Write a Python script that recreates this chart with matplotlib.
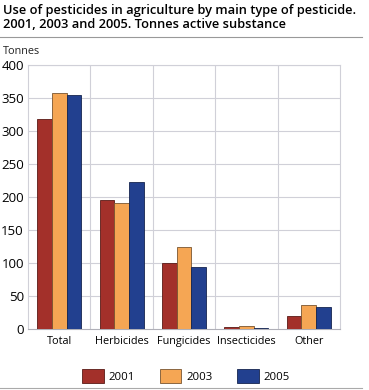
import matplotlib
matplotlib.use("Agg")
import matplotlib.pyplot as plt
import numpy as np
from matplotlib.lines import Line2D
from matplotlib.patches import Patch

categories = ["Total", "Herbicides", "Fungicides", "Insecticides", "Other"]
years = ["2001", "2003", "2005"]
v2001 = [318, 195, 100, 2.5, 20]
v2003 = [357, 191, 124, 4.5, 36]
v2005 = [354, 223, 94, 1.5, 33]
yticks = [0, 50, 100, 150, 200, 250, 300, 350, 400]

colors = ["#A3302A", "#F5A654", "#22408F"]
edges = ["#5a1a16", "#7a5530", "#15254f"]

plt.rcParams['font.family'] = ['Open Sans', 'DejaVu Sans']

fig = plt.figure(figsize=(3.69, 3.90), dpi=100)
W, H = 369, 390
ax = fig.add_axes([28/W, 1-329/H, (340-28)/W, (329-65)/H])

x = np.arange(len(categories))
bw = 0.235
for i, (vals, c, e) in enumerate(zip([v2001, v2003, v2005], colors, edges)):
    ax.bar(x + (i-1)*bw, vals, bw, color=c, edgecolor=e, linewidth=0.6, zorder=3)

ax.set_xlim(-0.5, len(categories)-0.5)
ax.set_ylim(0, 400)
ax.set_yticks(yticks)
ax.set_yticklabels([str(t) for t in yticks], fontsize=9.5)
ax.set_xticks(x)
ax.set_xticklabels(categories, fontsize=7.8)
ax.tick_params(length=0, pad=3)
ax.tick_params(axis='x', pad=5)
for t in yticks[1:]:
    ax.axhline(t, color="#d0d0d8", lw=0.8, zorder=1)
for b in np.arange(0.5, len(categories)-0.5, 1):
    ax.axvline(b, color="#d0d0d8", lw=0.8, zorder=1)
for s in ["top", "right", "left"]:
    ax.spines[s].set_color("#d0d0d8")
    ax.spines[s].set_linewidth(0.8)
ax.spines["bottom"].set_color("#b0b0b8")
ax.spines["bottom"].set_linewidth(0.8)

fig.text(3/W, 1-4/H, "Use of pesticides in agriculture by main type of pesticide.\n2001, 2003 and 2005. Tonnes active substance",
         fontsize=9.3, fontweight='semibold', va='top', ha='left', linespacing=1.12)
fig.add_artist(Line2D([0, 362/W], [1-37/H, 1-37/H], color="#999999", lw=0.8))
fig.text(3/W, 1-51/H, "Tonnes", fontsize=7.8, va='center', ha='left', color="#222222")
fig.add_artist(Line2D([0, 362/W], [1-388/H, 1-388/H], color="#aaaaaa", lw=0.8))

handles = [Patch(facecolor=c, edgecolor=e, linewidth=0.6) for c, e in zip(colors, edges)]
fig.legend(handles, years, loc='center', bbox_to_anchor=(186/W, 1-376/H), ncol=3,
           frameon=False, fontsize=8.2, handlelength=1.9, handleheight=1.5,
           columnspacing=2.2, handletextpad=0.4)

fig.savefig("out.png", dpi=100)
